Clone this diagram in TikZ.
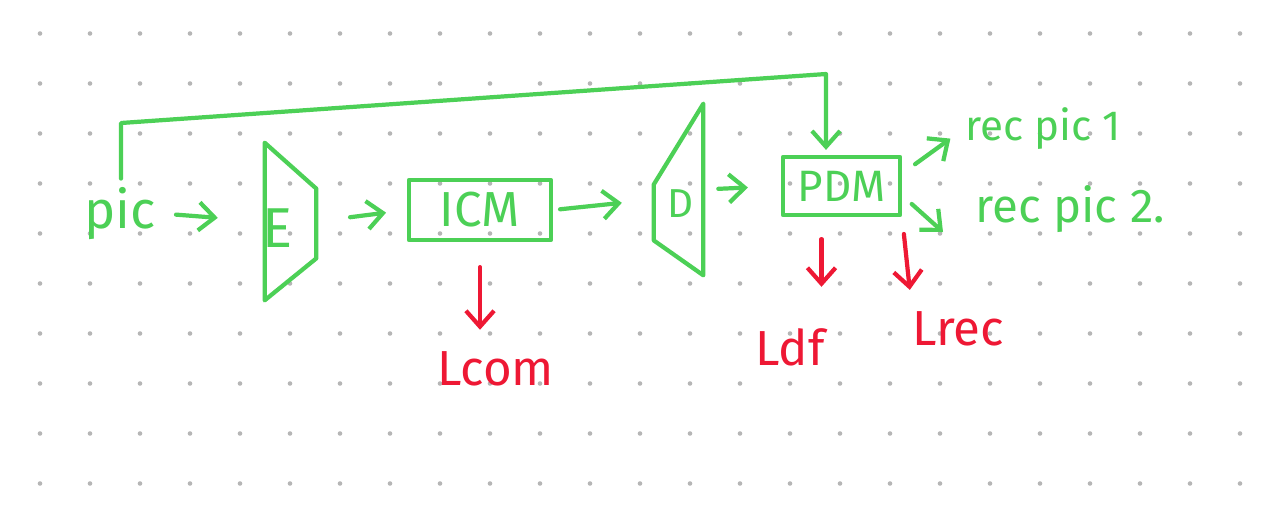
\documentclass[tikz,border=0pt]{standalone}
\usepackage{fontspec}
\setmainfont{Fira Sans}
\usetikzlibrary{arrows.meta,calc}
\definecolor{pen}{RGB}{76,208,86}
\definecolor{ink}{RGB}{238,24,52}
\definecolor{dotc}{RGB}{182,182,182}
\begin{document}
\begin{tikzpicture}[x=0.02cm,y=-0.02cm,
  stroke/.style={line width=2.4pt,line cap=round,line join=round},
  g/.style={stroke,draw=pen},
  r/.style={stroke,draw=ink},
  arr/.style={-{Straight Barb[length=9pt,width=16pt]}},
  gtxt/.style={text=pen,inner sep=0pt,font=\fontsize{28}{30}\selectfont},
  rtxt/.style={text=ink,inner sep=0pt,font=\fontsize{28}{30}\selectfont},
  blk/.style={draw=none,inner sep=0pt,rectangle},
  box/.style={g,gtxt,rectangle}]
\useasboundingbox (0,0) rectangle (1282,512);
\fill[white] (0,0) rectangle (1282,512);
\foreach \i in {0,...,24} \foreach \j in {0,...,9}
  \fill[dotc] (40+50*\i,33.5+50*\j) circle[radius=1.3pt];

% nodes
\node[gtxt,font=\fontsize{30}{32}\selectfont,anchor=base west] (pic) at (84,228) {pic};
\node[blk,minimum width=1.02cm,minimum height=3.14cm] (Eblk) at (290.5,221.5) {};
\node[gtxt,font=\fontsize{32}{34}\selectfont] (Etxt) at (278,228) {E};
\node[box,minimum width=2.84cm,minimum height=1.2cm] (ICM) at (480,210) {ICM};
\node[blk,minimum width=0.98cm,minimum height=3.42cm] (Dblk) at (678.5,189.5) {};
\node[gtxt,font=\fontsize{23}{25}\selectfont] (Dtxt) at (681,204) {D};
\node[box,font=\fontsize{25}{27}\selectfont,minimum width=2.34cm,minimum height=1.16cm] (PDM) at (841.5,186) {PDM};
\node[gtxt,font=\fontsize{24}{26}\selectfont,anchor=base west] (rec1) at (965,140) {rec pic 1};
\node[gtxt,font=\fontsize{27}{29}\selectfont,anchor=base west] (rec2) at (975,222) {rec pic 2.};
\node[rtxt,anchor=base west] (Lcom) at (437,385) {Lcom};
\node[rtxt,anchor=base west] (Ldf) at (755,365) {Ldf};
\node[rtxt,anchor=base west] (Lrec) at (912,345) {Lrec};

% block outlines
\draw[g] (Eblk.north west) -- ($(Eblk.north east)+(0,46)$) -- ($(Eblk.south east)+(0,-42)$) -- (Eblk.south west) -- cycle;
\draw[g] ($(Dblk.north west)+(0,81)$) -- (Dblk.north east) -- (Dblk.south east) -- ($(Dblk.south west)+(0,-35)$) -- cycle;

% main flow
\draw[g,arr,shorten <=0.4cm,shorten >=0.94cm] (pic.east) -- (Eblk.west);
\draw[g,arr,shorten <=0.68cm,shorten >=0.42cm] (Eblk.east) -- (ICM.west);
\draw[g,arr,shorten <=0.14cm,shorten >=0.64cm] (ICM.east) -- ([yshift=-0.2cm]Dblk.west);
\draw[g,arr,shorten <=0.3cm,shorten >=0.66cm] (Dblk.east) -- (PDM.west);

% feedback
\coordinate (fbL) at (121,123);
\coordinate (fbR) at (826,74);
\draw[g,arr,shorten <=0.16cm,shorten >=0.1cm] (fbL |- pic.north) -- (fbL) -- (fbR) -- (fbR |- PDM.north);

% outputs
\coordinate (r2tip) at (943,232);
\draw[g,arr,shorten <=0.32cm,shorten >=0.36cm] ($(PDM.north east)!0.3!(PDM.south east)$) -- (rec1.west);
\draw[g,arr,shorten <=0.26cm] ($(PDM.north east)!0.65!(PDM.south east)$) -- (r2tip);

% losses
\draw[r,arr,shorten <=0.5cm,shorten >=0.42cm] (ICM.south) -- (ICM.south |- Lcom.north);
\draw[r,arr,shorten <=0.44cm,shorten >=0.82cm] ([xshift=-0.4cm]PDM.south) -- ([xshift=-0.4cm]PDM.south |- Ldf.north);
\draw[r,arr,shorten <=0.34cm,shorten >=0.42cm] (PDM.south east) -- (Lrec.north west);
\end{tikzpicture}
\end{document}
